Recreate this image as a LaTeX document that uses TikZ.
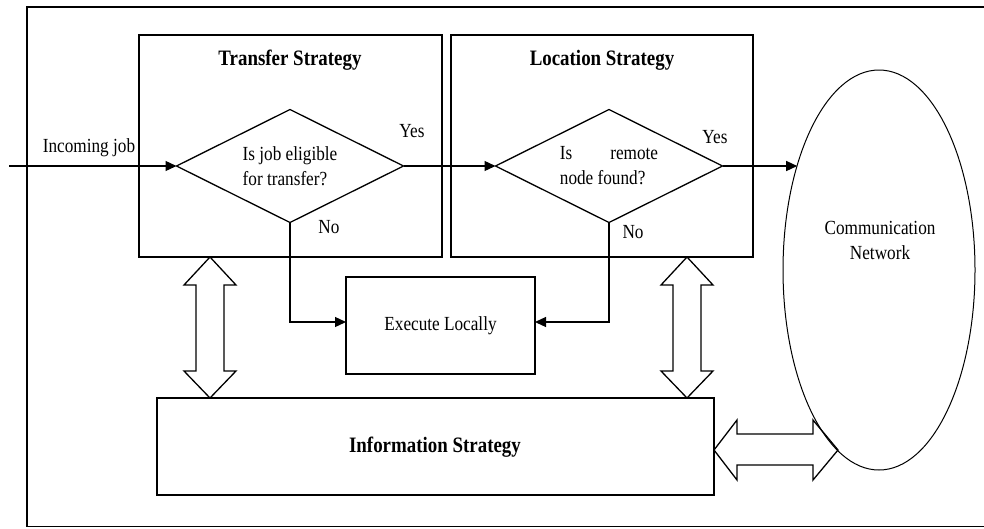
\documentclass[tikz,border=0pt]{standalone}
\usepackage{fontspec}
\setmainfont[FakeStretch=0.86]{Liberation Serif}
\usetikzlibrary{shapes.geometric,arrows.meta,calc}
\begin{document}
\begin{tikzpicture}[x=1pt,y=-1pt,
  box/.style={draw, rectangle, line width=1.6pt, inner sep=0pt, outer sep=0pt},
  dec/.style={draw, diamond, aspect=2, line width=1.3pt, inner sep=0pt, outer sep=0pt,
              minimum width=227pt, minimum height=113pt, align=left,
              font=\fontsize{20}{25}\selectfont},
  ttl/.style={font=\bfseries\fontsize{22}{26}\selectfont, inner sep=0pt},
  lbl/.style={font=\fontsize{20}{24}\selectfont, inner sep=0pt},
  flow/.style={line width=1.3pt, -{Triangle[length=11pt,width=10pt]}},
  darrow/.style={draw, line width=1.3pt, line join=miter}]
\useasboundingbox (0,0) rectangle (984,528);
% outer frame
\draw[line width=1.4pt] (984,7) -- (27,7) -- (27,526.5) -- (984,526.5);
% strategy boxes
\node[box, minimum width=303pt, minimum height=222pt] (tb) at (290.5,146) {};
\node[box, minimum width=302pt, minimum height=222pt] (lb) at (602,146) {};
\node[ttl] (tt) at (290,60) {Transfer Strategy};
\node[ttl] (lt) at (602,60) {Location Strategy};
% decisions
\node[dec] (d1) at (290,166) {Is job eligible\\for transfer?};
\node[dec] (d2) at (609,166) {Is\hspace{38pt}remote\\node found?};
% execute and information boxes
\node[box, minimum width=189pt, minimum height=97pt, lbl] (ex) at (440.5,325.5) {Execute Locally};
\node[box, minimum width=557pt, minimum height=97pt] (inf) at (435.5,446.5) {};
\node[ttl] (inft) at (435,447) {Information Strategy};
% double arrows
\draw[darrow] (210,257) -- (236,285) -- (224,285) -- (224,371) -- (236,371) -- (210,398)
  -- (184,371) -- (196,371) -- (196,285) -- (184,285) -- cycle;
\draw[darrow] (687,257) -- (713,285) -- (701,285) -- (701,371) -- (713,371) -- (687,398)
  -- (661,371) -- (673,371) -- (673,285) -- (661,285) -- cycle;
\draw[darrow] (714,450) -- (737,420) -- (737,434) -- (813,434) -- (813,420) -- (838,450)
  -- (813,480) -- (813,465) -- (737,465) -- (737,480) -- cycle;
% communication network
\node[draw, ellipse, line width=1pt, inner sep=0pt, outer sep=0pt,
      minimum width=192pt, minimum height=400pt] (cn) at (879,270) {};
\node[lbl, align=center, font=\fontsize{20}{25}\selectfont] (cnt) at (880,240) {Communication\\Network};
% flow connectors
\coordinate (in) at (9,166);
\draw[flow] (in) -- (d1.west);
\node[lbl] (inl) at (89,148) {Incoming job};
\draw[flow] (d1.east) -- (d2.west);
\draw[flow] (d2.east) -- (d2.east -| cn.128.3);
\draw[flow] (d1.south) |- ([yshift=3.5pt]ex.west);
\draw[flow] (d2.south) |- ([yshift=3.5pt]ex.east);
% labels
\node[lbl] (y1) at (412,131) {Yes};
\node[lbl] (y2) at (715,137) {Yes};
\node[lbl] (n1) at (329,227) {No};
\node[lbl] (n2) at (633,232) {No};
\end{tikzpicture}
\end{document}
